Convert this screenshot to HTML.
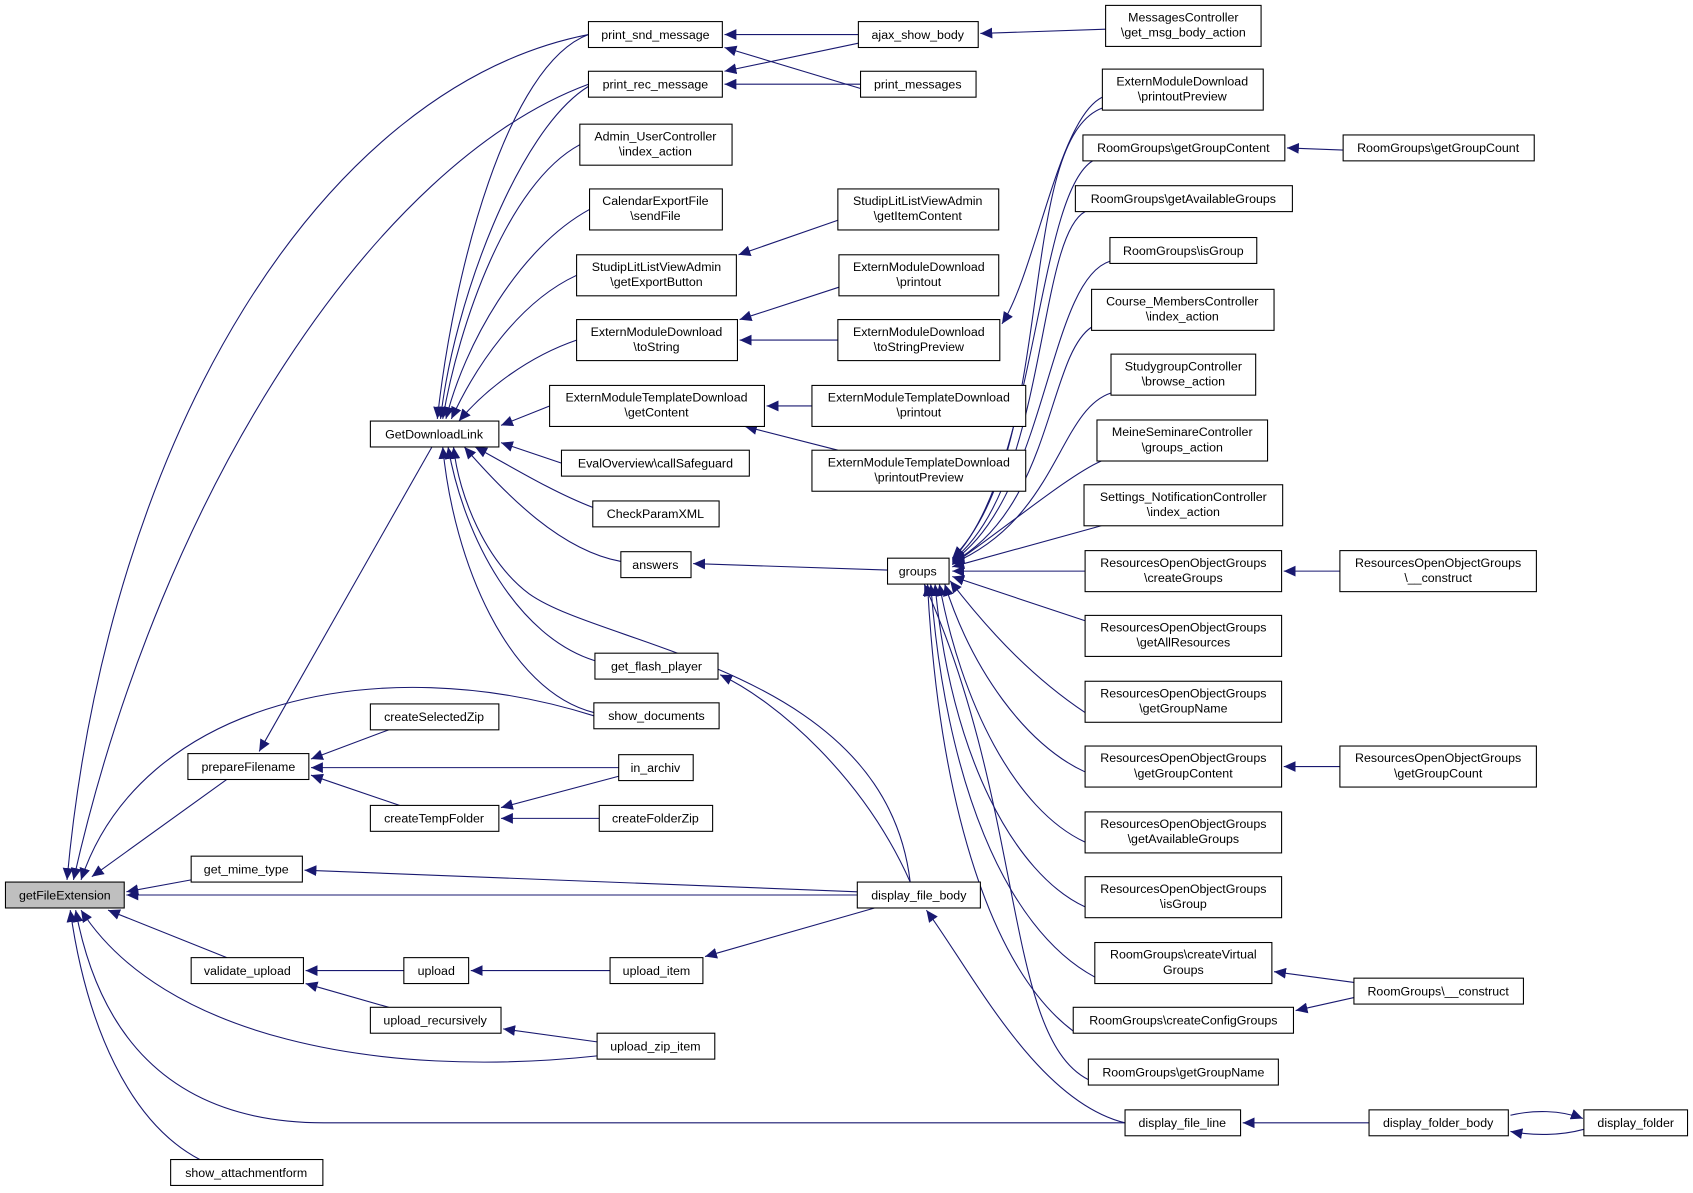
<!DOCTYPE html>
<html><head><meta charset="utf-8"><style>
html,body{margin:0;padding:0;background:#fff}
svg{display:block}
text{font-family:"Liberation Sans",sans-serif;font-size:11.5px;fill:#000}
.e{fill:none;stroke:#191970;stroke-width:1}
</style></head><body>
<svg width="1693" height="1193" viewBox="0 0 1568 1105" xmlns="http://www.w3.org/2000/svg">
<defs><marker id="a" markerUnits="userSpaceOnUse" markerWidth="12" markerHeight="10" refX="11" refY="5" orient="auto"><path d="M0,0 L11,5 L0,10 z" fill="#191970"/></marker></defs>
<g class="e" marker-end="url(#a)">
<path d="M545,32 C300,80 100,400 62,815"/>
<path d="M545,78 C350,150 150,450 68,815"/>
<path d="M210,722 L85,812"/>
<path d="M550,663 C350,600 130,650 75,815"/>
<path d="M177,815 L117,826"/>
<path d="M794,829 L117,829"/>
<path d="M210,887 L100,843"/>
<path d="M553,978 C350,1000 150,960 75,843"/>
<path d="M1042,1040 L300,1040 C150,1040 90,950 70,843"/>
<path d="M185,1074 C120,1040 80,950 65,843"/>
<path d="M545,32 C470,60 420,250 405,388"/>
<path d="M545,80 C480,120 420,280 408,388"/>
<path d="M537,134 C470,170 425,300 410,388"/>
<path d="M546,194 C480,230 430,320 413,388"/>
<path d="M534,255 C480,280 440,340 418,388"/>
<path d="M534,315 C490,330 450,360 425,390"/>
<path d="M509,376 L464,394"/>
<path d="M520,429 L464,410"/>
<path d="M549,470 C510,455 470,430 440,414"/>
<path d="M575,520 C520,510 470,460 430,414"/>
<path d="M551,612 C480,590 430,500 415,414"/>
<path d="M550,660 C470,640 420,520 410,414"/>
<path d="M843,817 C820,620 560,600 490,550 C450,520 425,460 420,414"/>
<path d="M400,414 L240,696"/>
<path d="M360,676 L288,703"/>
<path d="M573,711 L288,711"/>
<path d="M370,746 L288,718"/>
<path d="M573,719 L464,748"/>
<path d="M555,758 L464,758"/>
<path d="M794,826 L282,806"/>
<path d="M374,899 L283,899"/>
<path d="M360,933 L283,911"/>
<path d="M565,899 L436,899"/>
<path d="M553,965 L466,953"/>
<path d="M810,841 L653,886"/>
<path d="M1042,1040 C960,1020 900,900 858,843"/>
<path d="M843,817 C800,720 720,650 667,625"/>
<path d="M795,32 L671,32"/>
<path d="M797,82 L671,44"/>
<path d="M795,40 L671,66"/>
<path d="M797,78 L671,78"/>
<path d="M1024,27 L908,31"/>
<path d="M776,204 L684,236"/>
<path d="M777,266 L685,296"/>
<path d="M776,315 L685,315"/>
<path d="M752,376 L710,376"/>
<path d="M776,417 L690,395"/>
<path d="M1021,90 C980,110 960,250 928,300"/>
<path d="M1244,139 L1192,137"/>
<path d="M822,528 L642,522"/>
<path d="M1021,100 C940,130 980,420 882,517"/>
<path d="M1012,149 C960,180 960,440 882,518"/>
<path d="M1005,196 C960,220 970,450 882,519"/>
<path d="M1028,242 C970,260 970,460 882,520"/>
<path d="M1011,303 C970,330 975,470 882,521"/>
<path d="M1029,364 C980,380 980,480 882,522"/>
<path d="M1020,427 C990,440 930,490 882,523"/>
<path d="M1020,487 L882,525"/>
<path d="M1005,529 L882,529"/>
<path d="M1005,575 L882,534"/>
<path d="M1005,660 C960,630 920,590 880,538"/>
<path d="M1005,715 C950,690 900,620 875,541"/>
<path d="M1005,780 C940,750 890,650 870,541"/>
<path d="M1005,840 C940,810 880,700 866,541"/>
<path d="M1014,905 C930,860 875,720 862,541"/>
<path d="M994,955 C920,900 870,750 859,541"/>
<path d="M1008,1000 C930,960 950,750 856,541"/>
<path d="M1241,529 L1189,529"/>
<path d="M1241,710 L1189,710"/>
<path d="M1254,910 L1180,900"/>
<path d="M1254,924 L1200,936"/>
<path d="M1268,1040 L1151,1040"/>
<path d="M1399,1033 C1420,1028 1445,1028 1466,1036"/>
<path d="M1467,1046 C1445,1052 1420,1052 1399,1048"/>
</g>
<g fill="#fff" stroke="#000" stroke-width="1">
<rect x="5" y="817" width="110" height="24" fill="#bfbfbf"/>
<rect x="545" y="20" width="124" height="24"/>
<rect x="545" y="66" width="124" height="24"/>
<rect x="537" y="115" width="141" height="38"/>
<rect x="546" y="175" width="123" height="38"/>
<rect x="534" y="236" width="148" height="38"/>
<rect x="534" y="296" width="149" height="38"/>
<rect x="509" y="357" width="199" height="38"/>
<rect x="520" y="417" width="174" height="24"/>
<rect x="549" y="464" width="117" height="24"/>
<rect x="575" y="511" width="65" height="24"/>
<rect x="551" y="605" width="114" height="24"/>
<rect x="550" y="651" width="116" height="24"/>
<rect x="343" y="390" width="119" height="24"/>
<rect x="174" y="698" width="112" height="24"/>
<rect x="343" y="652" width="119" height="24"/>
<rect x="573" y="699" width="69" height="24"/>
<rect x="343" y="746" width="119" height="24"/>
<rect x="555" y="746" width="105" height="24"/>
<rect x="177" y="793" width="103" height="24"/>
<rect x="794" y="817" width="114" height="24"/>
<rect x="177" y="887" width="104" height="24"/>
<rect x="374" y="887" width="60" height="24"/>
<rect x="565" y="887" width="86" height="24"/>
<rect x="343" y="933" width="121" height="24"/>
<rect x="553" y="957" width="109" height="24"/>
<rect x="158" y="1074" width="141" height="24"/>
<rect x="795" y="20" width="111" height="24"/>
<rect x="797" y="66" width="107" height="24"/>
<rect x="1024" y="5" width="144" height="38"/>
<rect x="776" y="175" width="149" height="38"/>
<rect x="777" y="236" width="148" height="38"/>
<rect x="776" y="296" width="150" height="38"/>
<rect x="752" y="357" width="198" height="38"/>
<rect x="752" y="417" width="198" height="38"/>
<rect x="822" y="517" width="57" height="24"/>
<rect x="1021" y="64" width="149" height="38"/>
<rect x="1003" y="125" width="187" height="24"/>
<rect x="1244" y="125" width="177" height="24"/>
<rect x="996" y="172" width="201" height="24"/>
<rect x="1028" y="220" width="136" height="24"/>
<rect x="1011" y="268" width="169" height="38"/>
<rect x="1029" y="328" width="134" height="38"/>
<rect x="1016" y="389" width="158" height="38"/>
<rect x="1004" y="449" width="184" height="38"/>
<rect x="1005" y="510" width="182" height="38"/>
<rect x="1241" y="510" width="182" height="38"/>
<rect x="1005" y="570" width="182" height="38"/>
<rect x="1005" y="631" width="182" height="38"/>
<rect x="1005" y="691" width="182" height="38"/>
<rect x="1241" y="691" width="182" height="38"/>
<rect x="1005" y="752" width="182" height="38"/>
<rect x="1005" y="812" width="182" height="38"/>
<rect x="1014" y="873" width="164" height="38"/>
<rect x="1254" y="906" width="157" height="24"/>
<rect x="994" y="933" width="204" height="24"/>
<rect x="1008" y="981" width="176" height="24"/>
<rect x="1042" y="1028" width="107" height="24"/>
<rect x="1268" y="1028" width="129" height="24"/>
<rect x="1467" y="1028" width="96" height="24"/>
</g>
<g text-anchor="middle">
<text x="60" y="833">getFileExtension</text>
<text x="607" y="36">print_snd_message</text>
<text x="607" y="82">print_rec_message</text>
<text x="607" y="130">Admin_UserController</text><text x="607" y="144">\index_action</text>
<text x="607" y="190">CalendarExportFile</text><text x="607" y="204">\sendFile</text>
<text x="608" y="251">StudipLitListViewAdmin</text><text x="608" y="265">\getExportButton</text>
<text x="608" y="311">ExternModuleDownload</text><text x="608" y="325">\toString</text>
<text x="608" y="372">ExternModuleTemplateDownload</text><text x="608" y="386">\getContent</text>
<text x="607" y="433">EvalOverview\callSafeguard</text>
<text x="607" y="480">CheckParamXML</text>
<text x="607" y="527">answers</text>
<text x="608" y="621">get_flash_player</text>
<text x="608" y="667">show_documents</text>
<text x="402" y="406">GetDownloadLink</text>
<text x="230" y="714">prepareFilename</text>
<text x="402" y="668">createSelectedZip</text>
<text x="607" y="715">in_archiv</text>
<text x="402" y="762">createTempFolder</text>
<text x="607" y="762">createFolderZip</text>
<text x="228" y="809">get_mime_type</text>
<text x="851" y="833">display_file_body</text>
<text x="229" y="903">validate_upload</text>
<text x="404" y="903">upload</text>
<text x="608" y="903">upload_item</text>
<text x="403" y="949">upload_recursively</text>
<text x="607" y="973">upload_zip_item</text>
<text x="228" y="1090">show_attachmentform</text>
<text x="850" y="36">ajax_show_body</text>
<text x="850" y="82">print_messages</text>
<text x="1096" y="20">MessagesController</text><text x="1096" y="34">\get_msg_body_action</text>
<text x="850" y="190">StudipLitListViewAdmin</text><text x="850" y="204">\getItemContent</text>
<text x="851" y="251">ExternModuleDownload</text><text x="851" y="265">\printout</text>
<text x="851" y="311">ExternModuleDownload</text><text x="851" y="325">\toStringPreview</text>
<text x="851" y="372">ExternModuleTemplateDownload</text><text x="851" y="386">\printout</text>
<text x="851" y="432">ExternModuleTemplateDownload</text><text x="851" y="446">\printoutPreview</text>
<text x="850" y="533">groups</text>
<text x="1095" y="79">ExternModuleDownload</text><text x="1095" y="93">\printoutPreview</text>
<text x="1096" y="141">RoomGroups\getGroupContent</text>
<text x="1332" y="141">RoomGroups\getGroupCount</text>
<text x="1096" y="188">RoomGroups\getAvailableGroups</text>
<text x="1096" y="236">RoomGroups\isGroup</text>
<text x="1095" y="283">Course_MembersController</text><text x="1095" y="297">\index_action</text>
<text x="1096" y="343">StudygroupController</text><text x="1096" y="357">\browse_action</text>
<text x="1095" y="404">MeineSeminareController</text><text x="1095" y="418">\groups_action</text>
<text x="1096" y="464">Settings_NotificationController</text><text x="1096" y="478">\index_action</text>
<text x="1096" y="525">ResourcesOpenObjectGroups</text><text x="1096" y="539">\createGroups</text>
<text x="1332" y="525">ResourcesOpenObjectGroups</text><text x="1332" y="539">\__construct</text>
<text x="1096" y="585">ResourcesOpenObjectGroups</text><text x="1096" y="599">\getAllResources</text>
<text x="1096" y="646">ResourcesOpenObjectGroups</text><text x="1096" y="660">\getGroupName</text>
<text x="1096" y="706">ResourcesOpenObjectGroups</text><text x="1096" y="720">\getGroupContent</text>
<text x="1332" y="706">ResourcesOpenObjectGroups</text><text x="1332" y="720">\getGroupCount</text>
<text x="1096" y="767">ResourcesOpenObjectGroups</text><text x="1096" y="781">\getAvailableGroups</text>
<text x="1096" y="827">ResourcesOpenObjectGroups</text><text x="1096" y="841">\isGroup</text>
<text x="1096" y="888">RoomGroups\createVirtual</text><text x="1096" y="902">Groups</text>
<text x="1332" y="922">RoomGroups\__construct</text>
<text x="1096" y="949">RoomGroups\createConfigGroups</text>
<text x="1096" y="997">RoomGroups\getGroupName</text>
<text x="1095" y="1044">display_file_line</text>
<text x="1332" y="1044">display_folder_body</text>
<text x="1515" y="1044">display_folder</text>
</g>
</svg>
</body></html>
